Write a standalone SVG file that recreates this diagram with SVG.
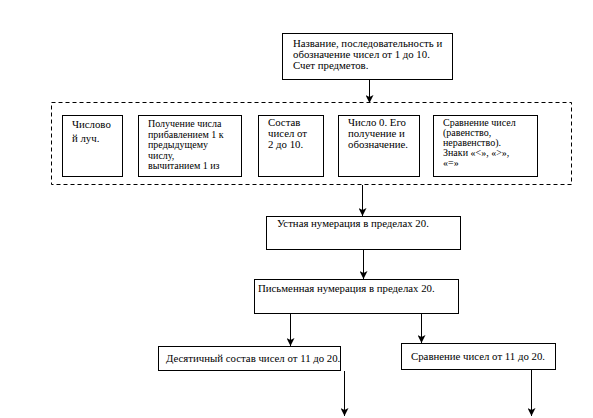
<svg xmlns="http://www.w3.org/2000/svg" width="593" height="418" viewBox="0 0 593 418">
<style>
.box{fill:#fff;stroke:#000;stroke-width:1}
.dash{fill:none;stroke:#000;stroke-width:1;stroke-dasharray:4 3}
.t{font-family:"Liberation Serif","Times New Roman",serif;font-size:10.8px;fill:#000}
.s{font-size:10px}
.c{stroke:#000;stroke-width:1;fill:none}
</style>
<defs>
<marker id="ah" markerWidth="8" markerHeight="8" refX="8" refY="4" orient="auto" markerUnits="userSpaceOnUse" viewBox="0 0 8 8">
<path d="M0,0 L8,4 L0,8 L2,4 Z" fill="#000"/>
</marker>
</defs>
<rect width="593" height="418" fill="#fff"/>
<g id="top">
<rect class="box" x="282.5" y="33.5" width="170" height="46"/>
<text class="t" x="293" y="47">Название, последовательность и</text>
<text class="t" x="293" y="58">обозначение  чисел от  1  до  10.</text>
<text class="t" x="293" y="69">Счет предметов.</text>
</g>
<g id="group">
<rect class="dash" x="51.5" y="102.5" width="520" height="82"/>
</g>
<g id="n1">
<rect class="box" x="62.5" y="115.5" width="60" height="61"/>
<text class="t" x="72" y="128">Числово</text>
<text class="t" x="72" y="142">й луч.</text>
</g>
<g id="n2">
<rect class="box" x="138.5" y="115.5" width="103" height="61"/>
<text class="t s" x="148" y="127">Получение  числа</text>
<text class="t s" x="148" y="137.5">прибавлением 1 к</text>
<text class="t s" x="148" y="148">предыдущему</text>
<text class="t s" x="148" y="158.5">числу,</text>
<text class="t s" x="148" y="169">вычитанием  1  из</text>
</g>
<g id="n3">
<rect class="box" x="258.5" y="115.5" width="65" height="61"/>
<text class="t" x="268" y="126">Состав</text>
<text class="t" x="268" y="137">чисел  от</text>
<text class="t" x="268" y="148">2 до 10.</text>
</g>
<g id="n4">
<rect class="box" x="338.5" y="115.5" width="81" height="61"/>
<text class="t" x="348" y="126">Число 0. Его</text>
<text class="t" x="348" y="137">получение  и</text>
<text class="t" x="348" y="148">обозначение.</text>
</g>
<g id="n5">
<rect class="box" x="433.5" y="115.5" width="104" height="61"/>
<text class="t s" x="443" y="126">Сравнение  чисел</text>
<text class="t s" x="443" y="136">(равенство,</text>
<text class="t s" x="443" y="146">неравенство).</text>
<text class="t s" x="443" y="156">Знаки  «&lt;»,  «&gt;»,</text>
<text class="t s" x="443" y="166">«=»</text>
</g>
<g id="oral">
<rect class="box" x="266.5" y="216.5" width="194" height="33"/>
<text class="t" x="277" y="227">Устная нумерация в пределах 20.</text>
</g>
<g id="written">
<rect class="box" x="254.5" y="279.5" width="204" height="34"/>
<text class="t" x="258" y="292">Письменная нумерация в пределах 20.</text>
</g>
<g id="decimal">
<rect class="box" x="158.5" y="346.5" width="182" height="24"/>
<text class="t" x="166" y="362">Десятичный состав чисел от 11 до 20.</text>
</g>
<g id="compare">
<rect class="box" x="401.5" y="343.5" width="154" height="26"/>
<text class="t" x="411" y="360">Сравнение чисел от 11 до 20.</text>
</g>
<g id="connectors">
<line class="c" x1="369.5" y1="80" x2="369.5" y2="103" marker-end="url(#ah)"/>
<line class="c" x1="362.5" y1="185" x2="362.5" y2="216" marker-end="url(#ah)"/>
<line class="c" x1="363.5" y1="250" x2="363.5" y2="279" marker-end="url(#ah)"/>
<line class="c" x1="290.5" y1="314" x2="290.5" y2="346" marker-end="url(#ah)"/>
<line class="c" x1="421.5" y1="314" x2="421.5" y2="343" marker-end="url(#ah)"/>
<line class="c" x1="344.5" y1="371" x2="344.5" y2="416" marker-end="url(#ah)"/>
<line class="c" x1="531.5" y1="370" x2="531.5" y2="416" marker-end="url(#ah)"/>
</g>
</svg>
